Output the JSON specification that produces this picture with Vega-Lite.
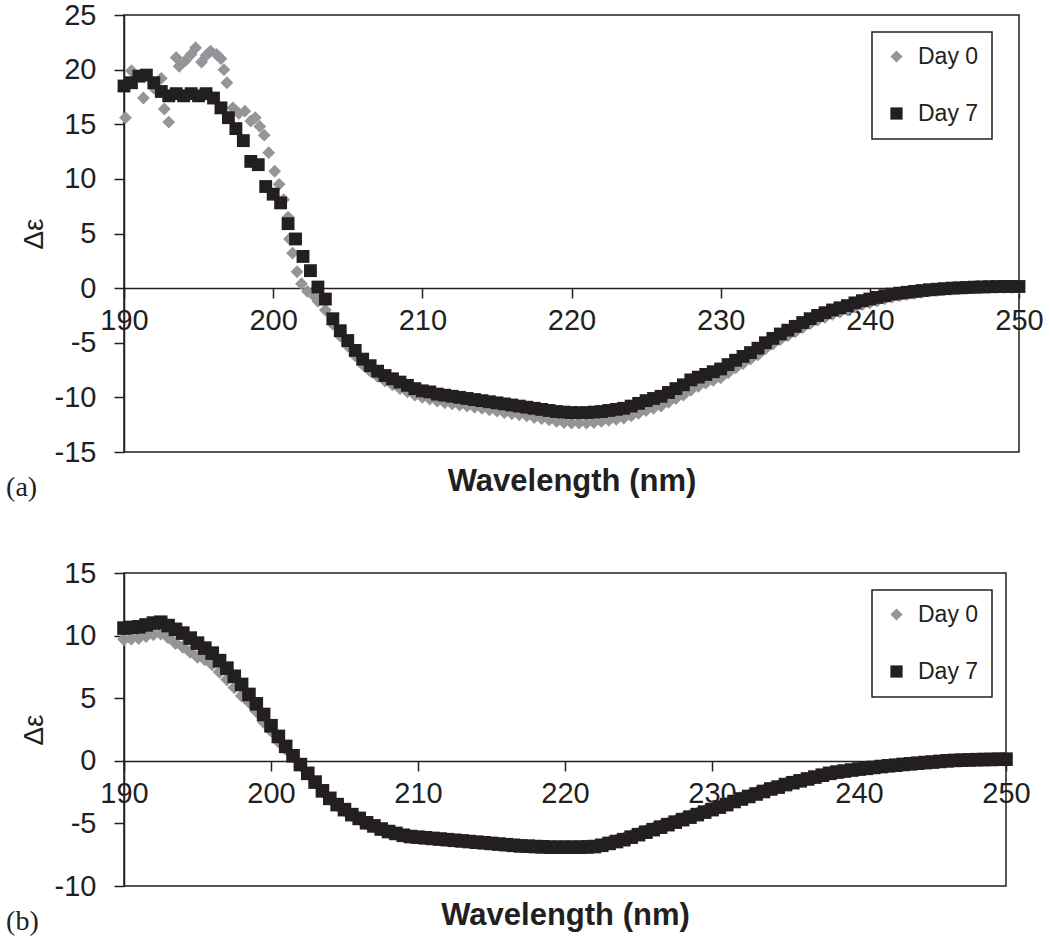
{
"$schema": "https://vega.github.io/schema/vega-lite/v6.json",
"background": "white",
"padding": {"left": 5, "top": 0, "right": 5, "bottom": 5},
"spacing": 55,
"config": {
  "view": {"stroke": "#231f20", "strokeWidth": 1.5},
  "font": "Liberation Sans",
  "axis": {"domainColor": "#231f20", "domainWidth": 1.5, "tickColor": "#231f20", "tickWidth": 1.5, "tickSize": 10, "labelFont": "Liberation Sans", "labelFontSize": 29, "labelColor": "#231f20", "titleFont": "Liberation Sans", "titleColor": "#231f20", "grid": false, "labelFlush": false, "labelOverlap": false},
  "legend": {"orient": "none", "legendX": 748, "legendY": 17, "strokeColor": "#231f20", "strokeWidth": 1.5, "fillColor": "white", "padding": 13, "rowPadding": 33, "labelFontSize": 23, "labelFont": "Liberation Sans", "labelColor": "#231f20", "labelOffset": 10, "symbolSize": 150, "symbolStrokeWidth": 0}
},
"datasets": {
"a": [
{"w":190.1,"v":15.6,"s":"Day 0"},{"w":190.5,"v":19.9,"s":"Day 0"},{"w":191.3,"v":17.4,"s":"Day 0"},{"w":192.0,"v":18.3,"s":"Day 0"},{"w":192.5,"v":19.2,"s":"Day 0"},{"w":192.7,"v":16.4,"s":"Day 0"},{"w":193.0,"v":15.2,"s":"Day 0"},{"w":193.5,"v":21.1,"s":"Day 0"},{"w":193.7,"v":20.3,"s":"Day 0"},{"w":194.1,"v":20.8,"s":"Day 0"},{"w":194.5,"v":21.4,"s":"Day 0"},{"w":194.8,"v":22.0,"s":"Day 0"},{"w":195.2,"v":20.7,"s":"Day 0"},{"w":195.5,"v":21.3,"s":"Day 0"},{"w":195.8,"v":21.7,"s":"Day 0"},{"w":196.2,"v":21.4,"s":"Day 0"},{"w":196.5,"v":21.0,"s":"Day 0"},{"w":196.7,"v":20.0,"s":"Day 0"},{"w":196.9,"v":18.8,"s":"Day 0"},{"w":197.3,"v":16.5,"s":"Day 0"},{"w":197.7,"v":16.0,"s":"Day 0"},{"w":198.1,"v":16.2,"s":"Day 0"},{"w":198.5,"v":15.3,"s":"Day 0"},{"w":198.8,"v":15.6,"s":"Day 0"},{"w":199.1,"v":14.8,"s":"Day 0"},{"w":199.4,"v":14.0,"s":"Day 0"},{"w":199.7,"v":12.4,"s":"Day 0"},{"w":200.1,"v":10.7,"s":"Day 0"},{"w":200.4,"v":9.5,"s":"Day 0"},{"w":200.7,"v":8.1,"s":"Day 0"},{"w":201.0,"v":6.5,"s":"Day 0"},{"w":201.1,"v":4.5,"s":"Day 0"},{"w":201.3,"v":3.2,"s":"Day 0"},{"w":201.6,"v":1.5,"s":"Day 0"},{"w":201.9,"v":0.4,"s":"Day 0"},{"w":202.3,"v":-0.3,"s":"Day 0"},{"w":202.8,"v":-0.8,"s":"Day 0"},{"w":203.0,"v":-1.2,"s":"Day 0"},
{"w":203.5,"v":-2.0,"s":"Day 0"},{"w":204,"v":-3.3,"s":"Day 0"},{"w":204.5,"v":-4.4,"s":"Day 0"},{"w":205,"v":-5.3,"s":"Day 0"},{"w":205.5,"v":-6.2,"s":"Day 0"},{"w":206,"v":-7.0,"s":"Day 0"},{"w":206.5,"v":-7.6,"s":"Day 0"},{"w":207,"v":-8.1,"s":"Day 0"},{"w":207.5,"v":-8.5,"s":"Day 0"},{"w":208,"v":-8.85,"s":"Day 0"},{"w":208.5,"v":-9.2,"s":"Day 0"},{"w":209,"v":-9.5,"s":"Day 0"},{"w":209.5,"v":-9.8,"s":"Day 0"},{"w":210,"v":-10.0,"s":"Day 0"},{"w":210.5,"v":-10.15,"s":"Day 0"},{"w":211,"v":-10.35,"s":"Day 0"},{"w":211.5,"v":-10.5,"s":"Day 0"},{"w":212,"v":-10.6,"s":"Day 0"},{"w":212.5,"v":-10.7,"s":"Day 0"},{"w":213,"v":-10.8,"s":"Day 0"},{"w":213.5,"v":-10.9,"s":"Day 0"},{"w":214,"v":-11.0,"s":"Day 0"},{"w":214.5,"v":-11.15,"s":"Day 0"},{"w":215,"v":-11.25,"s":"Day 0"},{"w":215.5,"v":-11.4,"s":"Day 0"},{"w":216,"v":-11.5,"s":"Day 0"},{"w":216.5,"v":-11.6,"s":"Day 0"},{"w":217,"v":-11.7,"s":"Day 0"},{"w":217.5,"v":-11.85,"s":"Day 0"},{"w":218,"v":-11.95,"s":"Day 0"},{"w":218.5,"v":-12.05,"s":"Day 0"},{"w":219,"v":-12.2,"s":"Day 0"},{"w":219.5,"v":-12.3,"s":"Day 0"},{"w":220,"v":-12.35,"s":"Day 0"},{"w":220.5,"v":-12.35,"s":"Day 0"},{"w":221,"v":-12.35,"s":"Day 0"},{"w":221.5,"v":-12.3,"s":"Day 0"},{"w":222,"v":-12.2,"s":"Day 0"},{"w":222.5,"v":-12.1,"s":"Day 0"},{"w":223,"v":-12.0,"s":"Day 0"},{"w":223.5,"v":-11.9,"s":"Day 0"},{"w":224,"v":-11.7,"s":"Day 0"},{"w":224.5,"v":-11.45,"s":"Day 0"},{"w":225,"v":-11.2,"s":"Day 0"},{"w":225.5,"v":-11.0,"s":"Day 0"},{"w":226,"v":-10.8,"s":"Day 0"},{"w":226.5,"v":-10.45,"s":"Day 0"},{"w":227,"v":-10.1,"s":"Day 0"},{"w":227.5,"v":-9.8,"s":"Day 0"},{"w":228,"v":-9.35,"s":"Day 0"},{"w":228.5,"v":-9.0,"s":"Day 0"},{"w":229,"v":-8.7,"s":"Day 0"},{"w":229.5,"v":-8.45,"s":"Day 0"},{"w":230,"v":-8.2,"s":"Day 0"},{"w":230.5,"v":-7.75,"s":"Day 0"},{"w":231,"v":-7.3,"s":"Day 0"},{"w":231.5,"v":-6.9,"s":"Day 0"},{"w":232,"v":-6.5,"s":"Day 0"},{"w":232.5,"v":-6.1,"s":"Day 0"},{"w":233,"v":-5.55,"s":"Day 0"},{"w":233.5,"v":-5.12,"s":"Day 0"},{"w":234,"v":-4.7,"s":"Day 0"},{"w":234.5,"v":-4.35,"s":"Day 0"},{"w":235,"v":-4.0,"s":"Day 0"},{"w":235.5,"v":-3.62,"s":"Day 0"},{"w":236,"v":-3.25,"s":"Day 0"},{"w":236.5,"v":-2.93,"s":"Day 0"},{"w":237,"v":-2.67,"s":"Day 0"},{"w":237.5,"v":-2.4,"s":"Day 0"},{"w":238,"v":-2.2,"s":"Day 0"},{"w":238.5,"v":-1.98,"s":"Day 0"},{"w":239,"v":-1.72,"s":"Day 0"},{"w":239.5,"v":-1.5,"s":"Day 0"},{"w":240,"v":-1.35,"s":"Day 0"},{"w":240.5,"v":-1.17,"s":"Day 0"},{"w":241,"v":-0.99,"s":"Day 0"},{"w":241.5,"v":-0.82,"s":"Day 0"},{"w":242,"v":-0.71,"s":"Day 0"},{"w":242.5,"v":-0.6,"s":"Day 0"},{"w":243,"v":-0.5,"s":"Day 0"},{"w":243.5,"v":-0.4,"s":"Day 0"},{"w":244,"v":-0.3,"s":"Day 0"},{"w":244.5,"v":-0.23,"s":"Day 0"},{"w":245,"v":-0.16,"s":"Day 0"},{"w":245.5,"v":-0.1,"s":"Day 0"},{"w":246,"v":-0.07,"s":"Day 0"},{"w":246.5,"v":-0.04,"s":"Day 0"},{"w":247,"v":-0.01,"s":"Day 0"},{"w":247.5,"v":0.01,"s":"Day 0"},{"w":248,"v":0.03,"s":"Day 0"},{"w":248.5,"v":0.04,"s":"Day 0"},{"w":249,"v":0.05,"s":"Day 0"},{"w":249.5,"v":0.05,"s":"Day 0"},{"w":250,"v":0.05,"s":"Day 0"},
{"w":190,"v":18.5,"s":"Day 7"},{"w":190.5,"v":18.8,"s":"Day 7"},{"w":191,"v":19.4,"s":"Day 7"},{"w":191.5,"v":19.5,"s":"Day 7"},{"w":192,"v":18.8,"s":"Day 7"},{"w":192.5,"v":18.0,"s":"Day 7"},{"w":193,"v":17.6,"s":"Day 7"},{"w":193.5,"v":17.8,"s":"Day 7"},{"w":194,"v":17.6,"s":"Day 7"},{"w":194.5,"v":17.8,"s":"Day 7"},{"w":195,"v":17.6,"s":"Day 7"},{"w":195.5,"v":17.8,"s":"Day 7"},{"w":196,"v":17.4,"s":"Day 7"},{"w":196.5,"v":16.5,"s":"Day 7"},{"w":197,"v":15.6,"s":"Day 7"},{"w":197.5,"v":14.6,"s":"Day 7"},{"w":198,"v":13.5,"s":"Day 7"},{"w":198.5,"v":11.6,"s":"Day 7"},{"w":199,"v":11.3,"s":"Day 7"},{"w":199.5,"v":9.3,"s":"Day 7"},{"w":200,"v":8.6,"s":"Day 7"},{"w":200.5,"v":7.8,"s":"Day 7"},{"w":201,"v":5.9,"s":"Day 7"},{"w":201.5,"v":4.5,"s":"Day 7"},{"w":202,"v":2.9,"s":"Day 7"},{"w":202.5,"v":1.6,"s":"Day 7"},{"w":203,"v":0.1,"s":"Day 7"},{"w":203.5,"v":-1.0,"s":"Day 7"},{"w":204,"v":-2.8,"s":"Day 7"},{"w":204.5,"v":-3.9,"s":"Day 7"},{"w":205,"v":-4.8,"s":"Day 7"},{"w":205.5,"v":-5.7,"s":"Day 7"},{"w":206,"v":-6.5,"s":"Day 7"},{"w":206.5,"v":-7.1,"s":"Day 7"},{"w":207,"v":-7.6,"s":"Day 7"},{"w":207.5,"v":-8.0,"s":"Day 7"},{"w":208,"v":-8.3,"s":"Day 7"},{"w":208.5,"v":-8.6,"s":"Day 7"},{"w":209,"v":-8.9,"s":"Day 7"},{"w":209.5,"v":-9.2,"s":"Day 7"},{"w":210,"v":-9.4,"s":"Day 7"},{"w":210.5,"v":-9.5,"s":"Day 7"},{"w":211,"v":-9.7,"s":"Day 7"},{"w":211.5,"v":-9.8,"s":"Day 7"},{"w":212,"v":-9.9,"s":"Day 7"},{"w":212.5,"v":-10.0,"s":"Day 7"},{"w":213,"v":-10.1,"s":"Day 7"},{"w":213.5,"v":-10.2,"s":"Day 7"},{"w":214,"v":-10.3,"s":"Day 7"},{"w":214.5,"v":-10.4,"s":"Day 7"},{"w":215,"v":-10.5,"s":"Day 7"},{"w":215.5,"v":-10.6,"s":"Day 7"},{"w":216,"v":-10.7,"s":"Day 7"},{"w":216.5,"v":-10.8,"s":"Day 7"},{"w":217,"v":-10.9,"s":"Day 7"},{"w":217.5,"v":-11.0,"s":"Day 7"},{"w":218,"v":-11.1,"s":"Day 7"},{"w":218.5,"v":-11.2,"s":"Day 7"},{"w":219,"v":-11.3,"s":"Day 7"},{"w":219.5,"v":-11.35,"s":"Day 7"},{"w":220,"v":-11.4,"s":"Day 7"},{"w":220.5,"v":-11.4,"s":"Day 7"},{"w":221,"v":-11.4,"s":"Day 7"},{"w":221.5,"v":-11.35,"s":"Day 7"},{"w":222,"v":-11.3,"s":"Day 7"},{"w":222.5,"v":-11.2,"s":"Day 7"},{"w":223,"v":-11.1,"s":"Day 7"},{"w":223.5,"v":-11.0,"s":"Day 7"},{"w":224,"v":-10.8,"s":"Day 7"},{"w":224.5,"v":-10.55,"s":"Day 7"},{"w":225,"v":-10.3,"s":"Day 7"},{"w":225.5,"v":-10.1,"s":"Day 7"},{"w":226,"v":-9.9,"s":"Day 7"},{"w":226.5,"v":-9.55,"s":"Day 7"},{"w":227,"v":-9.2,"s":"Day 7"},{"w":227.5,"v":-8.85,"s":"Day 7"},{"w":228,"v":-8.4,"s":"Day 7"},{"w":228.5,"v":-8.15,"s":"Day 7"},{"w":229,"v":-7.9,"s":"Day 7"},{"w":229.5,"v":-7.65,"s":"Day 7"},{"w":230,"v":-7.4,"s":"Day 7"},{"w":230.5,"v":-7.0,"s":"Day 7"},{"w":231,"v":-6.6,"s":"Day 7"},{"w":231.5,"v":-6.25,"s":"Day 7"},{"w":232,"v":-5.9,"s":"Day 7"},{"w":232.5,"v":-5.5,"s":"Day 7"},{"w":233,"v":-5.0,"s":"Day 7"},{"w":233.5,"v":-4.6,"s":"Day 7"},{"w":234,"v":-4.2,"s":"Day 7"},{"w":234.5,"v":-3.85,"s":"Day 7"},{"w":235,"v":-3.5,"s":"Day 7"},{"w":235.5,"v":-3.15,"s":"Day 7"},{"w":236,"v":-2.8,"s":"Day 7"},{"w":236.5,"v":-2.5,"s":"Day 7"},{"w":237,"v":-2.25,"s":"Day 7"},{"w":237.5,"v":-2.0,"s":"Day 7"},{"w":238,"v":-1.8,"s":"Day 7"},{"w":238.5,"v":-1.6,"s":"Day 7"},{"w":239,"v":-1.35,"s":"Day 7"},{"w":239.5,"v":-1.15,"s":"Day 7"},{"w":240,"v":-1.0,"s":"Day 7"},{"w":240.5,"v":-0.85,"s":"Day 7"},{"w":241,"v":-0.7,"s":"Day 7"},{"w":241.5,"v":-0.55,"s":"Day 7"},{"w":242,"v":-0.46,"s":"Day 7"},{"w":242.5,"v":-0.38,"s":"Day 7"},{"w":243,"v":-0.3,"s":"Day 7"},{"w":243.5,"v":-0.22,"s":"Day 7"},{"w":244,"v":-0.15,"s":"Day 7"},{"w":244.5,"v":-0.1,"s":"Day 7"},{"w":245,"v":-0.05,"s":"Day 7"},{"w":245.5,"v":0.0,"s":"Day 7"},{"w":246,"v":0.03,"s":"Day 7"},{"w":246.5,"v":0.06,"s":"Day 7"},{"w":247,"v":0.09,"s":"Day 7"},{"w":247.5,"v":0.11,"s":"Day 7"},{"w":248,"v":0.13,"s":"Day 7"},{"w":248.5,"v":0.14,"s":"Day 7"},{"w":249,"v":0.15,"s":"Day 7"},{"w":249.5,"v":0.15,"s":"Day 7"},{"w":250,"v":0.15,"s":"Day 7"}
],
"b": [
{"w":190,"v":9.7,"s":"Day 0"},{"w":190.5,"v":9.75,"s":"Day 0"},{"w":191,"v":9.8,"s":"Day 0"},{"w":191.5,"v":9.95,"s":"Day 0"},{"w":192,"v":10.1,"s":"Day 0"},{"w":192.5,"v":10.15,"s":"Day 0"},{"w":193,"v":9.85,"s":"Day 0"},{"w":193.5,"v":9.4,"s":"Day 0"},{"w":194,"v":9.1,"s":"Day 0"},{"w":194.5,"v":8.7,"s":"Day 0"},{"w":195,"v":8.3,"s":"Day 0"},{"w":195.5,"v":8.1,"s":"Day 0"},{"w":196,"v":7.7,"s":"Day 0"},{"w":196.5,"v":7.1,"s":"Day 0"},{"w":197,"v":6.5,"s":"Day 0"},{"w":197.5,"v":5.85,"s":"Day 0"},{"w":198,"v":5.2,"s":"Day 0"},{"w":198.5,"v":4.7,"s":"Day 0"},{"w":199,"v":3.95,"s":"Day 0"},{"w":199.5,"v":3.1,"s":"Day 0"},{"w":200,"v":2.4,"s":"Day 0"},{"w":200.5,"v":1.55,"s":"Day 0"},{"w":201,"v":0.95,"s":"Day 0"},{"w":201.5,"v":0.35,"s":"Day 0"},{"w":202,"v":-0.35,"s":"Day 0"},{"w":202.5,"v":-1.05,"s":"Day 0"},{"w":203,"v":-1.75,"s":"Day 0"},{"w":203.5,"v":-2.45,"s":"Day 0"},{"w":204,"v":-3.05,"s":"Day 0"},{"w":204.5,"v":-3.55,"s":"Day 0"},{"w":205,"v":-3.95,"s":"Day 0"},{"w":205.5,"v":-4.35,"s":"Day 0"},{"w":206,"v":-4.65,"s":"Day 0"},{"w":206.5,"v":-5.0,"s":"Day 0"},{"w":207,"v":-5.25,"s":"Day 0"},{"w":207.5,"v":-5.5,"s":"Day 0"},{"w":208,"v":-5.7,"s":"Day 0"},{"w":208.5,"v":-5.85,"s":"Day 0"},{"w":209,"v":-6.0,"s":"Day 0"},{"w":209.5,"v":-6.1,"s":"Day 0"},{"w":210,"v":-6.15,"s":"Day 0"},{"w":210.5,"v":-6.2,"s":"Day 0"},{"w":211,"v":-6.25,"s":"Day 0"},{"w":211.5,"v":-6.3,"s":"Day 0"},{"w":212,"v":-6.35,"s":"Day 0"},{"w":212.5,"v":-6.4,"s":"Day 0"},{"w":213,"v":-6.45,"s":"Day 0"},{"w":213.5,"v":-6.5,"s":"Day 0"},{"w":214,"v":-6.55,"s":"Day 0"},{"w":214.5,"v":-6.6,"s":"Day 0"},{"w":215,"v":-6.65,"s":"Day 0"},{"w":215.5,"v":-6.7,"s":"Day 0"},{"w":216,"v":-6.75,"s":"Day 0"},{"w":216.5,"v":-6.8,"s":"Day 0"},{"w":217,"v":-6.85,"s":"Day 0"},{"w":217.5,"v":-6.87,"s":"Day 0"},{"w":218,"v":-6.9,"s":"Day 0"},{"w":218.5,"v":-6.92,"s":"Day 0"},{"w":219,"v":-6.95,"s":"Day 0"},{"w":219.5,"v":-6.95,"s":"Day 0"},{"w":220,"v":-6.95,"s":"Day 0"},{"w":220.5,"v":-6.95,"s":"Day 0"},{"w":221,"v":-6.95,"s":"Day 0"},{"w":221.5,"v":-6.9,"s":"Day 0"},{"w":222,"v":-6.85,"s":"Day 0"},{"w":222.5,"v":-6.7,"s":"Day 0"},{"w":223,"v":-6.5,"s":"Day 0"},{"w":223.5,"v":-6.35,"s":"Day 0"},{"w":224,"v":-6.2,"s":"Day 0"},{"w":224.5,"v":-6.0,"s":"Day 0"},{"w":225,"v":-5.8,"s":"Day 0"},{"w":225.5,"v":-5.6,"s":"Day 0"},{"w":226,"v":-5.4,"s":"Day 0"},{"w":226.5,"v":-5.2,"s":"Day 0"},{"w":227,"v":-5.0,"s":"Day 0"},{"w":227.5,"v":-4.8,"s":"Day 0"},{"w":228,"v":-4.6,"s":"Day 0"},{"w":228.5,"v":-4.4,"s":"Day 0"},{"w":229,"v":-4.2,"s":"Day 0"},{"w":229.5,"v":-4.0,"s":"Day 0"},{"w":230,"v":-3.8,"s":"Day 0"},{"w":230.5,"v":-3.6,"s":"Day 0"},{"w":231,"v":-3.4,"s":"Day 0"},{"w":231.5,"v":-3.15,"s":"Day 0"},{"w":232,"v":-2.95,"s":"Day 0"},{"w":232.5,"v":-2.75,"s":"Day 0"},{"w":233,"v":-2.55,"s":"Day 0"},{"w":233.5,"v":-2.37,"s":"Day 0"},{"w":234,"v":-2.18,"s":"Day 0"},{"w":234.5,"v":-2.03,"s":"Day 0"},{"w":235,"v":-1.85,"s":"Day 0"},{"w":235.5,"v":-1.72,"s":"Day 0"},{"w":236,"v":-1.6,"s":"Day 0"},{"w":236.5,"v":-1.47,"s":"Day 0"},{"w":237,"v":-1.33,"s":"Day 0"},{"w":237.5,"v":-1.2,"s":"Day 0"},{"w":238,"v":-1.07,"s":"Day 0"},{"w":238.5,"v":-0.97,"s":"Day 0"},{"w":239,"v":-0.89,"s":"Day 0"},{"w":239.5,"v":-0.8,"s":"Day 0"},{"w":240,"v":-0.72,"s":"Day 0"},{"w":240.5,"v":-0.65,"s":"Day 0"},{"w":241,"v":-0.57,"s":"Day 0"},{"w":241.5,"v":-0.5,"s":"Day 0"},{"w":242,"v":-0.43,"s":"Day 0"},{"w":242.5,"v":-0.37,"s":"Day 0"},{"w":243,"v":-0.31,"s":"Day 0"},{"w":243.5,"v":-0.25,"s":"Day 0"},{"w":244,"v":-0.2,"s":"Day 0"},{"w":244.5,"v":-0.15,"s":"Day 0"},{"w":245,"v":-0.1,"s":"Day 0"},{"w":245.5,"v":-0.06,"s":"Day 0"},{"w":246,"v":-0.02,"s":"Day 0"},{"w":246.5,"v":0.02,"s":"Day 0"},{"w":247,"v":0.05,"s":"Day 0"},{"w":247.5,"v":0.08,"s":"Day 0"},{"w":248,"v":0.1,"s":"Day 0"},{"w":248.5,"v":0.12,"s":"Day 0"},{"w":249,"v":0.13,"s":"Day 0"},{"w":249.5,"v":0.14,"s":"Day 0"},{"w":250,"v":0.15,"s":"Day 0"},
{"w":190,"v":10.6,"s":"Day 7"},{"w":190.5,"v":10.65,"s":"Day 7"},{"w":191,"v":10.7,"s":"Day 7"},{"w":191.5,"v":10.85,"s":"Day 7"},{"w":192,"v":11.0,"s":"Day 7"},{"w":192.5,"v":11.07,"s":"Day 7"},{"w":193,"v":10.8,"s":"Day 7"},{"w":193.5,"v":10.5,"s":"Day 7"},{"w":194,"v":10.2,"s":"Day 7"},{"w":194.5,"v":9.8,"s":"Day 7"},{"w":195,"v":9.4,"s":"Day 7"},{"w":195.5,"v":9.0,"s":"Day 7"},{"w":196,"v":8.6,"s":"Day 7"},{"w":196.5,"v":8.0,"s":"Day 7"},{"w":197,"v":7.4,"s":"Day 7"},{"w":197.5,"v":6.75,"s":"Day 7"},{"w":198,"v":6.1,"s":"Day 7"},{"w":198.5,"v":5.3,"s":"Day 7"},{"w":199,"v":4.55,"s":"Day 7"},{"w":199.5,"v":3.7,"s":"Day 7"},{"w":200,"v":2.8,"s":"Day 7"},{"w":200.5,"v":1.95,"s":"Day 7"},{"w":201,"v":1.15,"s":"Day 7"},{"w":201.5,"v":0.4,"s":"Day 7"},{"w":202,"v":-0.3,"s":"Day 7"},{"w":202.5,"v":-1.0,"s":"Day 7"},{"w":203,"v":-1.7,"s":"Day 7"},{"w":203.5,"v":-2.4,"s":"Day 7"},{"w":204,"v":-3.0,"s":"Day 7"},{"w":204.5,"v":-3.5,"s":"Day 7"},{"w":205,"v":-3.9,"s":"Day 7"},{"w":205.5,"v":-4.3,"s":"Day 7"},{"w":206,"v":-4.6,"s":"Day 7"},{"w":206.5,"v":-4.95,"s":"Day 7"},{"w":207,"v":-5.2,"s":"Day 7"},{"w":207.5,"v":-5.45,"s":"Day 7"},{"w":208,"v":-5.65,"s":"Day 7"},{"w":208.5,"v":-5.8,"s":"Day 7"},{"w":209,"v":-5.95,"s":"Day 7"},{"w":209.5,"v":-6.05,"s":"Day 7"},{"w":210,"v":-6.1,"s":"Day 7"},{"w":210.5,"v":-6.15,"s":"Day 7"},{"w":211,"v":-6.2,"s":"Day 7"},{"w":211.5,"v":-6.25,"s":"Day 7"},{"w":212,"v":-6.3,"s":"Day 7"},{"w":212.5,"v":-6.35,"s":"Day 7"},{"w":213,"v":-6.4,"s":"Day 7"},{"w":213.5,"v":-6.45,"s":"Day 7"},{"w":214,"v":-6.5,"s":"Day 7"},{"w":214.5,"v":-6.55,"s":"Day 7"},{"w":215,"v":-6.6,"s":"Day 7"},{"w":215.5,"v":-6.65,"s":"Day 7"},{"w":216,"v":-6.7,"s":"Day 7"},{"w":216.5,"v":-6.75,"s":"Day 7"},{"w":217,"v":-6.8,"s":"Day 7"},{"w":217.5,"v":-6.82,"s":"Day 7"},{"w":218,"v":-6.85,"s":"Day 7"},{"w":218.5,"v":-6.87,"s":"Day 7"},{"w":219,"v":-6.9,"s":"Day 7"},{"w":219.5,"v":-6.9,"s":"Day 7"},{"w":220,"v":-6.9,"s":"Day 7"},{"w":220.5,"v":-6.9,"s":"Day 7"},{"w":221,"v":-6.9,"s":"Day 7"},{"w":221.5,"v":-6.88,"s":"Day 7"},{"w":222,"v":-6.85,"s":"Day 7"},{"w":222.5,"v":-6.75,"s":"Day 7"},{"w":223,"v":-6.6,"s":"Day 7"},{"w":223.5,"v":-6.45,"s":"Day 7"},{"w":224,"v":-6.3,"s":"Day 7"},{"w":224.5,"v":-6.1,"s":"Day 7"},{"w":225,"v":-5.9,"s":"Day 7"},{"w":225.5,"v":-5.7,"s":"Day 7"},{"w":226,"v":-5.5,"s":"Day 7"},{"w":226.5,"v":-5.3,"s":"Day 7"},{"w":227,"v":-5.1,"s":"Day 7"},{"w":227.5,"v":-4.9,"s":"Day 7"},{"w":228,"v":-4.7,"s":"Day 7"},{"w":228.5,"v":-4.5,"s":"Day 7"},{"w":229,"v":-4.3,"s":"Day 7"},{"w":229.5,"v":-4.1,"s":"Day 7"},{"w":230,"v":-3.9,"s":"Day 7"},{"w":230.5,"v":-3.7,"s":"Day 7"},{"w":231,"v":-3.5,"s":"Day 7"},{"w":231.5,"v":-3.25,"s":"Day 7"},{"w":232,"v":-3.05,"s":"Day 7"},{"w":232.5,"v":-2.85,"s":"Day 7"},{"w":233,"v":-2.65,"s":"Day 7"},{"w":233.5,"v":-2.45,"s":"Day 7"},{"w":234,"v":-2.25,"s":"Day 7"},{"w":234.5,"v":-2.1,"s":"Day 7"},{"w":235,"v":-1.9,"s":"Day 7"},{"w":235.5,"v":-1.75,"s":"Day 7"},{"w":236,"v":-1.6,"s":"Day 7"},{"w":236.5,"v":-1.45,"s":"Day 7"},{"w":237,"v":-1.3,"s":"Day 7"},{"w":237.5,"v":-1.15,"s":"Day 7"},{"w":238,"v":-1.0,"s":"Day 7"},{"w":238.5,"v":-0.9,"s":"Day 7"},{"w":239,"v":-0.82,"s":"Day 7"},{"w":239.5,"v":-0.74,"s":"Day 7"},{"w":240,"v":-0.66,"s":"Day 7"},{"w":240.5,"v":-0.6,"s":"Day 7"},{"w":241,"v":-0.53,"s":"Day 7"},{"w":241.5,"v":-0.46,"s":"Day 7"},{"w":242,"v":-0.4,"s":"Day 7"},{"w":242.5,"v":-0.35,"s":"Day 7"},{"w":243,"v":-0.29,"s":"Day 7"},{"w":243.5,"v":-0.24,"s":"Day 7"},{"w":244,"v":-0.19,"s":"Day 7"},{"w":244.5,"v":-0.14,"s":"Day 7"},{"w":245,"v":-0.1,"s":"Day 7"},{"w":245.5,"v":-0.05,"s":"Day 7"},{"w":246,"v":0.0,"s":"Day 7"},{"w":246.5,"v":0.03,"s":"Day 7"},{"w":247,"v":0.05,"s":"Day 7"},{"w":247.5,"v":0.07,"s":"Day 7"},{"w":248,"v":0.09,"s":"Day 7"},{"w":248.5,"v":0.1,"s":"Day 7"},{"w":249,"v":0.11,"s":"Day 7"},{"w":249.5,"v":0.12,"s":"Day 7"},{"w":250,"v":0.13,"s":"Day 7"}
]
},
"vconcat": [
{
  "width": 895, "height": 437,
  "data": {"name": "a"},
  "title": {"text": "(a)", "orient": "bottom", "anchor": "start", "frame": "bounds", "font": "Liberation Serif", "fontSize": 28, "fontWeight": "normal", "color": "#231f20", "offset": -22, "dx": -14},
  "mark": {"type": "point", "filled": true, "size": 165, "opacity": 1},
  "encoding": {
    "x": {"field": "w", "type": "quantitative", "scale": {"domain": [190, 250], "nice": false, "zero": false},
      "axis": {"values": [190, 200, 210, 220, 230, 240, 250], "offset": -164, "labelPadding": 8, "title": "Wavelength (nm)", "titleFontSize": 31, "titleFontWeight": "bold", "titleBaseline": "middle", "titleY": 193}},
    "y": {"field": "v", "type": "quantitative", "scale": {"domain": [-15, 25], "nice": false},
      "axis": {"values": [-15, -10, -5, 0, 5, 10, 15, 20, 25], "labelExpr": "datum.value + ''", "labelPadding": 18, "title": "Δε", "titleFontSize": 28, "titleFontWeight": "normal", "titlePadding": 6}},
    "color": {"field": "s", "type": "nominal", "title": null, "scale": {"domain": ["Day 0", "Day 7"], "range": ["#939598", "#231f20"]}},
    "shape": {"field": "s", "type": "nominal", "title": null, "scale": {"domain": ["Day 0", "Day 7"], "range": ["diamond", "square"]}}
  }
},
{
  "width": 882, "height": 313,
  "data": {"name": "b"},
  "title": {"text": "(b)", "orient": "bottom", "anchor": "start", "frame": "bounds", "font": "Liberation Serif", "fontSize": 28, "fontWeight": "normal", "color": "#231f20", "offset": -22, "dx": -14},
  "mark": {"type": "point", "filled": true, "size": 185, "opacity": 1},
  "encoding": {
    "x": {"field": "w", "type": "quantitative", "scale": {"domain": [190, 250], "nice": false, "zero": false},
      "axis": {"values": [190, 200, 210, 220, 230, 240, 250], "offset": -125, "labelPadding": 8, "title": "Wavelength (nm)", "titleFontSize": 31, "titleFontWeight": "bold", "titleBaseline": "middle", "titleY": 154}},
    "y": {"field": "v", "type": "quantitative", "scale": {"domain": [-10, 15], "nice": false},
      "axis": {"values": [-10, -5, 0, 5, 10, 15], "labelExpr": "datum.value + ''", "labelPadding": 18, "title": "Δε", "titleFontSize": 28, "titleFontWeight": "normal", "titlePadding": 6}},
    "color": {"field": "s", "type": "nominal", "title": null, "scale": {"domain": ["Day 0", "Day 7"], "range": ["#939598", "#231f20"]}},
    "shape": {"field": "s", "type": "nominal", "title": null, "scale": {"domain": ["Day 0", "Day 7"], "range": ["diamond", "square"]}}
  }
}
],
"resolve": {"scale": {"color": "independent", "shape": "independent"}, "legend": {"color": "independent", "shape": "independent"}}
}
